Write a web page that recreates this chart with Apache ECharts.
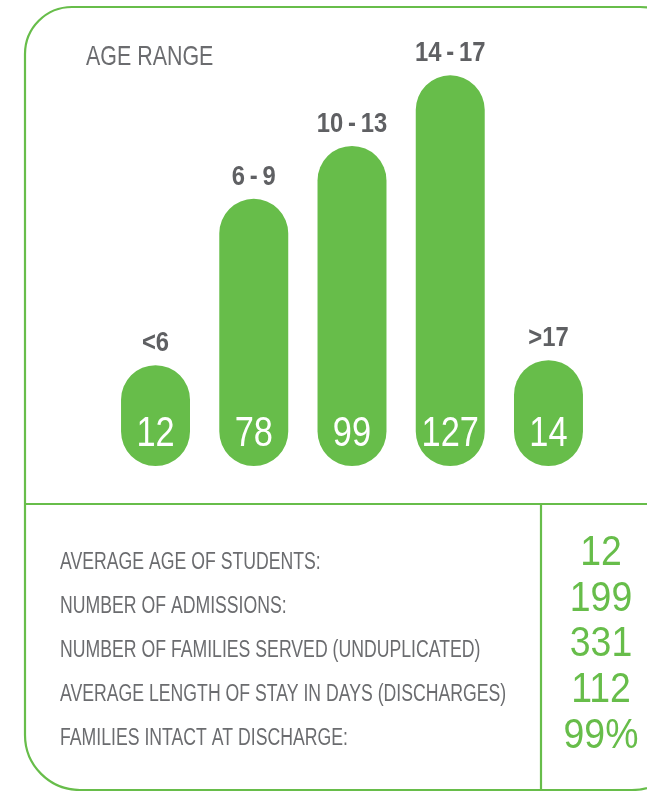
<!DOCTYPE html>
<html><head><meta charset="utf-8">
<script src="https://cdn.jsdelivr.net/npm/echarts@6/dist/echarts.min.js"></script>
<style>html,body{margin:0;padding:0;background:#fff}#c{width:647px;height:791px}</style>
</head><body><div id="c"></div>
<script>
// ---- data ----
const categories = ['<6', '6-9', '10-13', '14-17', '>17'];
const counts = [12, 78, 99, 127, 14];
const chartTitle = 'AGE RANGE';
const statLabels = [
  'AVERAGE AGE OF STUDENTS:',
  'NUMBER OF ADMISSIONS:',
  'NUMBER OF FAMILIES SERVED (UNDUPLICATED)',
  'AVERAGE LENGTH OF STAY IN DAYS (DISCHARGES)',
  'FAMILIES INTACT AT DISCHARGE:'
];
const statValues = ['12', '199', '331', '112', '99%'];

// ---- styling ----
const GREEN = '#67bd4a';
const GRAY = '#5f6063';
const LGRAY = '#6b6c6f';
const FONT = "'Liberation Sans',Arial,sans-serif";
const Y_MIN = -28, Y_MAX = 150;

function spaced(s) {
  return s.replace(/-/g, '\u2009-\u2009');
}

const chart = echarts.init(document.getElementById('c'), null, {renderer: 'canvas'});

const graphics = [
  {type: 'rect', silent: true, shape: {x: 25, y: 7, width: 662, height: 783, r: [47, 47, 55, 55]},
   style: {fill: 'none', stroke: GREEN, lineWidth: 2.2}},
  {type: 'line', silent: true, shape: {x1: 25, y1: 504, x2: 660, y2: 504},
   style: {stroke: GREEN, lineWidth: 2.2}},
  {type: 'line', silent: true, shape: {x1: 541, y1: 504, x2: 541, y2: 800},
   style: {stroke: GREEN, lineWidth: 2.2}},
  {type: 'text', silent: true, x: 86, y: 57, scaleX: 0.765,
   style: {text: chartTitle, fill: LGRAY, font: '28px ' + FONT, align: 'left', verticalAlign: 'middle'}}
];
statLabels.forEach(function (t, i) {
  graphics.push({type: 'text', silent: true, x: 60, y: 563 + i * 44, scaleX: 0.768,
    style: {text: t, fill: LGRAY, font: '23px ' + FONT, align: 'left', verticalAlign: 'middle'}});
});
statValues.forEach(function (t, i) {
  graphics.push({type: 'text', silent: true, x: 601, y: 553 + i * 45.7, scaleX: 0.87,
    style: {text: t, fill: GREEN, font: '43px ' + FONT, align: 'center', verticalAlign: 'middle'}});
});

chart.setOption({
  animation: false,
  grid: {left: 106.4, right: 49.4, top: 17.4, bottom: 325},
  xAxis: {type: 'category', data: categories, show: false},
  yAxis: {type: 'value', min: Y_MIN, max: Y_MAX, show: false},
  series: [{
    type: 'custom',
    data: counts.map(function (v, i) { return [i, v]; }),
    renderItem: function (params, api) {
      const i = api.value(0), v = api.value(1);
      const top = api.coord([i, v]);
      const base = api.coord([i, Y_MIN]);
      const w = api.size([1, 0])[0] * 0.702;
      const cx = top[0];
      return {type: 'group', children: [
        {type: 'rect', shape: {x: cx - w / 2, y: top[1], width: w, height: base[1] - top[1], r: w / 2},
         style: {fill: GREEN}},
        {type: 'text', x: cx, y: base[1] - 32, scaleX: 0.8,
         style: {text: String(v), align: 'center', verticalAlign: 'middle', fill: '#ffffff', font: '43px ' + FONT}},
        {type: 'text', x: cx, y: top[1] - 22, scaleX: 0.85,
         style: {text: spaced(categories[i]), align: 'center', verticalAlign: 'middle', fill: GRAY, font: 'bold 28px ' + FONT}}
      ]};
    }
  }],
  graphic: graphics
});
</script>
</body></html>
